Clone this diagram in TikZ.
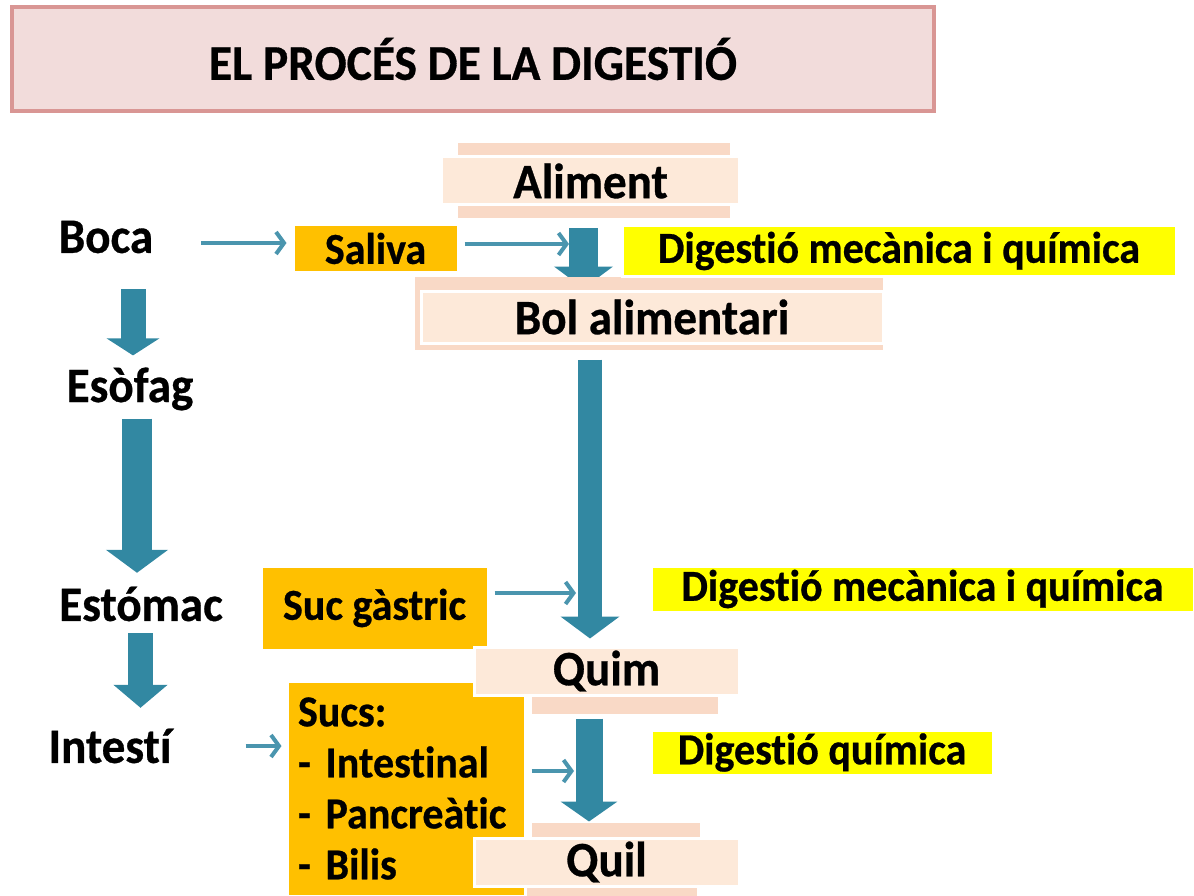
\documentclass[tikz,border=0pt]{standalone}
\usepackage{fontspec}
\setmainfont{Carlito}[Ligatures=NoCommon, FakeStretch=0.95, BoldFeatures={FakeBold=0.6}]
\usetikzlibrary{arrows.meta,calc}
\definecolor{teal1}{HTML}{3288A2}
\definecolor{tealthin}{HTML}{4A95AE}
\definecolor{peach}{HTML}{FDE9D9}
\definecolor{peachband}{HTML}{F9D9C6}
\definecolor{orangebox}{HTML}{FFC000}
\definecolor{yellowbox}{HTML}{FFFF00}
\definecolor{titlefill}{HTML}{F2DCDB}
\definecolor{titleline}{HTML}{D99694}
\pgfdeclarelayer{arrowlayer}
\pgfdeclarelayer{bandlayer}
\pgfsetlayers{arrowlayer,bandlayer,main}
\begin{document}
\begin{tikzpicture}[x=1pt,y=-1pt,
  titlebox/.style={fill=titlefill, draw=titleline, line width=4pt, minimum width=922pt, minimum height=104pt, inner sep=0pt, font=\fontsize{50}{52}\selectfont\bfseries},
  lab/.style={font=\fontsize{49.5}{52}\selectfont\bfseries, inner sep=0pt, minimum height=40pt},
  pbox/.style={fill=peach, draw=white, line width=3pt, inner sep=0pt, font=\fontsize{49.5}{52}\selectfont\bfseries},
  obox/.style={fill=orangebox, draw=white, line width=3pt, inner sep=0pt, font=\fontsize{44.2}{51}\selectfont\bfseries},
  ybox/.style={fill=yellowbox, draw=white, line width=3pt, inner sep=0pt, font=\fontsize{44.2}{50}\selectfont\bfseries},
  bigarrow/.style n args={3}{draw=teal1, line width=#1, -{Triangle[width=#2,length=#3]}},
  thinarrow/.style={draw=tealthin, line width=4pt, -{Straight Barb[length=8pt,width=22pt]}}
]
\useasboundingbox (0,0) rectangle (1194,896);

% title
\node[titlebox] (title) at (473,59) {EL PROCÉS DE LA DIGESTIÓ};

% left column labels
\node[lab] (boca) at (106,237) {Boca};
\node[lab] (esofag) at (130,389) {Esòfag};
\node[lab] (estomac) at (141,604) {Estómac};
\node[lab] (intesti) at (110,746) {Intestí};

% boxes
\node[pbox, minimum width=298pt, minimum height=48pt] (aliment) at (590.5,181) {Aliment};
\node[obox, minimum width=165pt, minimum height=47pt] (saliva) at (375.5,248.5) {Saliva};
\node[ybox, minimum width=554pt, minimum height=51pt] (dig1) at (899,251) {Digestió mecànica i química};
\node[pbox, minimum width=462pt, minimum height=52pt] (bol) at (652,317) {Bol alimentari};
\node[obox, minimum width=227pt, minimum height=84pt] (sucg) at (374.5,608) {Suc gàstric};
\node[ybox, minimum width=543pt, minimum height=46pt] (dig2) at (922.5,589) {Digestió mecànica i química};
\node[obox, text width=216pt, align=left, inner xsep=11pt, minimum height=215pt] (sucs) at (406,788.5) {Sucs:\\- Intestinal\\- Pancreàtic\\- Bilis};
\node[pbox, minimum width=265pt, minimum height=48pt] (quim) at (606.5,671) {Quim};
\node[ybox, minimum width=342pt, minimum height=45pt] (dig3) at (822,752.5) {Digestió química};
\node[pbox, minimum width=265pt, minimum height=48pt] (quil) at (606.5,862) {Quil};

% bands behind the peach boxes
\begin{pgfonlayer}{bandlayer}
\fill[peachband] (458,143) rectangle (730,218);
\fill[peachband] (415,277) rectangle (883,350);
\fill[peachband] (532,694) rectangle (718,714);
\fill[peachband] (532,823) rectangle (700,840);
\fill[peachband] (507,886) rectangle (697,896);
\end{pgfonlayer}

% arrows
\begin{pgfonlayer}{arrowlayer}
\coordinate (xa1) at (133,0);
\coordinate (xa2) at (137,0);
\coordinate (xa3) at (140.5,0);
\coordinate (xs) at (583.5,0);
\coordinate (xm) at (590,0);
\coordinate (xq) at (589,0);
\draw[bigarrow={25pt}{52pt}{17pt}, shorten <=32pt, shorten >=12pt] (boca.south -| xa1) -- (esofag.north -| xa1);
\draw[bigarrow={30pt}{61pt}{23pt}, shorten <=8pt, shorten >=11pt] (esofag.south -| xa2) -- (estomac.north -| xa2);
\draw[bigarrow={25pt}{53pt}{23pt}, shorten <=9pt, shorten >=18pt] (estomac.south -| xa3) -- (intesti.north -| xa3);
\draw[bigarrow={29pt}{58pt}{22pt}, shorten <=22pt, shorten >=1pt] (aliment.south -| xs) -- (bol.north -| xs);
\draw[bigarrow={24pt}{58pt}{22pt}, shorten <=15pt, shorten >=7pt] (bol.south -| xm) -- (quim.north -| xm);
\draw[bigarrow={27pt}{56pt}{20pt}, shorten <=22pt, shorten >=15pt] (quim.south -| xq) -- (quil.north -| xq);

\coordinate (t1) at (569,244);
\coordinate (t2) at (576,593);
\coordinate (t3) at (574,771);
\draw[thinarrow, shorten <=48pt, shorten >=5pt] ([yshift=-6pt]boca.east) -- ([yshift=-6pt]boca.east -| saliva.west);
\draw[thinarrow, shorten <=5pt] (saliva.east |- t1) -- (t1);
\draw[thinarrow, shorten <=5pt] (sucg.east |- t2) -- (t2);
\draw[thinarrow, shorten <=74pt, shorten >=4pt] (intesti.east) -- (intesti.east -| sucs.west);
\draw[thinarrow, shorten <=5pt] (sucs.east |- t3) -- (t3);
\end{pgfonlayer}
\end{tikzpicture}
\end{document}
